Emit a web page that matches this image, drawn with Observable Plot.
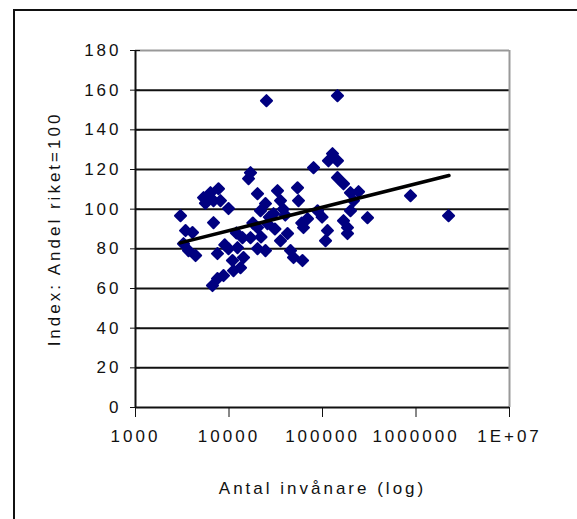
<!DOCTYPE html>
<html>
<head>
<meta charset="utf-8">
<script src="https://cdn.jsdelivr.net/npm/d3@7"></script>
<script src="https://cdn.jsdelivr.net/npm/@observablehq/plot@0.6"></script>
<style>
  html, body { margin: 0; padding: 0; background: #fff; }
  #wrap { position: relative; width: 577px; height: 519px; overflow: hidden; }
  #border { position: absolute; left: 13px; top: 9px; width: 600px; height: 560px; border: 2px solid #111; box-sizing: border-box; }
  #chart { position: absolute; left: 0; top: 0; }
  svg text { font-family: "Liberation Sans", Arial, sans-serif; letter-spacing: 3px; }
</style>
</head>
<body>
<div id="wrap"><div id="border"></div><div id="chart"></div></div>
<script>
// Population (x, log scale) and index (y) for each municipality
const population = [
  3030, 3430, 4070, 3260, 3690, 4390,
  5340, 6340, 7720, 8110, 6830, 9880, 6830, 7530,
  6660, 7530, 8740, 11170, 10900, 9880, 12330, 13950,
  16980, 16180, 20180, 24560, 21740, 33020, 35560, 29930,
  25800, 20180, 16980, 20180, 24560, 14290, 13280,
  35560, 42270, 45520, 49020, 61100, 54070, 55370,
  69140, 62620, 88510, 113000, 107800, 167800, 185100,
  199200, 214600, 80200, 115800, 144600, 167800, 199200,
  25170, 144600, 127900, 144600, 873600, 2230000, 302900,
  242900, 185100, 99000, 60000, 40000,
  5600, 9000, 12000, 18000, 27000, 31000, 38000, 22000
];
const indexValue = [
  96.7, 89.2, 88.2, 82.6, 79.1, 76.6,
  105.8, 108.3, 110.3, 104.3, 104.3, 100.3, 93.2, 77.6,
  61.5, 65, 66.5, 69, 74.1, 80.1, 80.6, 85.6,
  118.4, 115.4, 107.8, 102.8, 99.2, 109.3, 104.3, 97.7,
  92.7, 90.7, 85.6, 80.1, 79.1, 75.6, 70.5,
  84.1, 87.7, 79.1, 75.6, 74.1, 110.8, 104.3,
  95.2, 90.7, 99.2, 89.2, 84.1, 94.2, 87.7,
  99.2, 104.3, 120.9, 124.4, 115.9, 112.8, 108.3,
  154.7, 157.2, 128, 124.4, 106.8, 96.7, 95.7,
  108.8, 90.7, 96, 93, 97,
  103, 82, 88, 93, 96, 90, 100, 86
];
// Trend line end points
const trendX = [3000, 2250000];
const trendY = [83, 117];
// Ticks
const xTicks = [1000, 10000, 100000, 1000000, 10000000];
const xTickLabels = ["1000", "10000", "100000", "1000000", "1E+07"];
const yTicks = [0, 20, 40, 60, 80, 100, 120, 140, 160, 180];
const gridY = [20, 40, 60, 80, 100, 120, 140, 160];

const points = population.map((p, i) => ({x: p, y: indexValue[i]}));
const trend = trendX.map((x, i) => ({x, y: trendY[i]}));
const fmt = new Map(xTicks.map((t, i) => [t, xTickLabels[i]]));

const chart = Plot.plot({
  width: 577,
  height: 519,
  marginLeft: 135,
  marginRight: 68,
  marginTop: 50,
  marginBottom: 112,
  style: {fontFamily: '"Liberation Sans", Arial, sans-serif', fontSize: "17px", color: "#111", background: "transparent"},
  x: {type: "log", domain: [1000, 10000000]},
  y: {domain: [0, 180]},
  marks: [
    Plot.ruleY(gridY, {stroke: "#111", strokeWidth: 2}),
    Plot.ruleY([180], {stroke: "#999", strokeWidth: 2}),
    Plot.ruleX([10000000], {stroke: "#999", strokeWidth: 2}),
    Plot.ruleX([1000], {stroke: "#111", strokeWidth: 2}),
    Plot.ruleY([0], {stroke: "#111", strokeWidth: 2}),
    Plot.axisY({ticks: yTicks, tickSize: 10, dx: 5, text: null, stroke: "#111", label: null}),
    Plot.axisY({ticks: yTicks, tickSize: 0, tickPadding: 14, fontSize: 17,
      label: "Index: Andel riket=100", labelAnchor: "center", labelOffset: 88, labelArrow: "none"}),
    Plot.axisX({ticks: xTicks, tickSize: 10, tickPadding: 12, fontSize: 17,
      tickFormat: d => fmt.get(d),
      label: "Antal invånare (log)", labelAnchor: "center", labelOffset: 86, labelArrow: "none"}),
    Plot.dot(points, {x: "x", y: "y", symbol: "diamond2", r: 5, fill: "#000080", stroke: "#000080", strokeWidth: 2, strokeLinejoin: "round"}),
    Plot.line(trend, {x: "x", y: "y", stroke: "#000", strokeWidth: 3.5})
  ]
});
document.getElementById("chart").appendChild(chart);
</script>
</body>
</html>
